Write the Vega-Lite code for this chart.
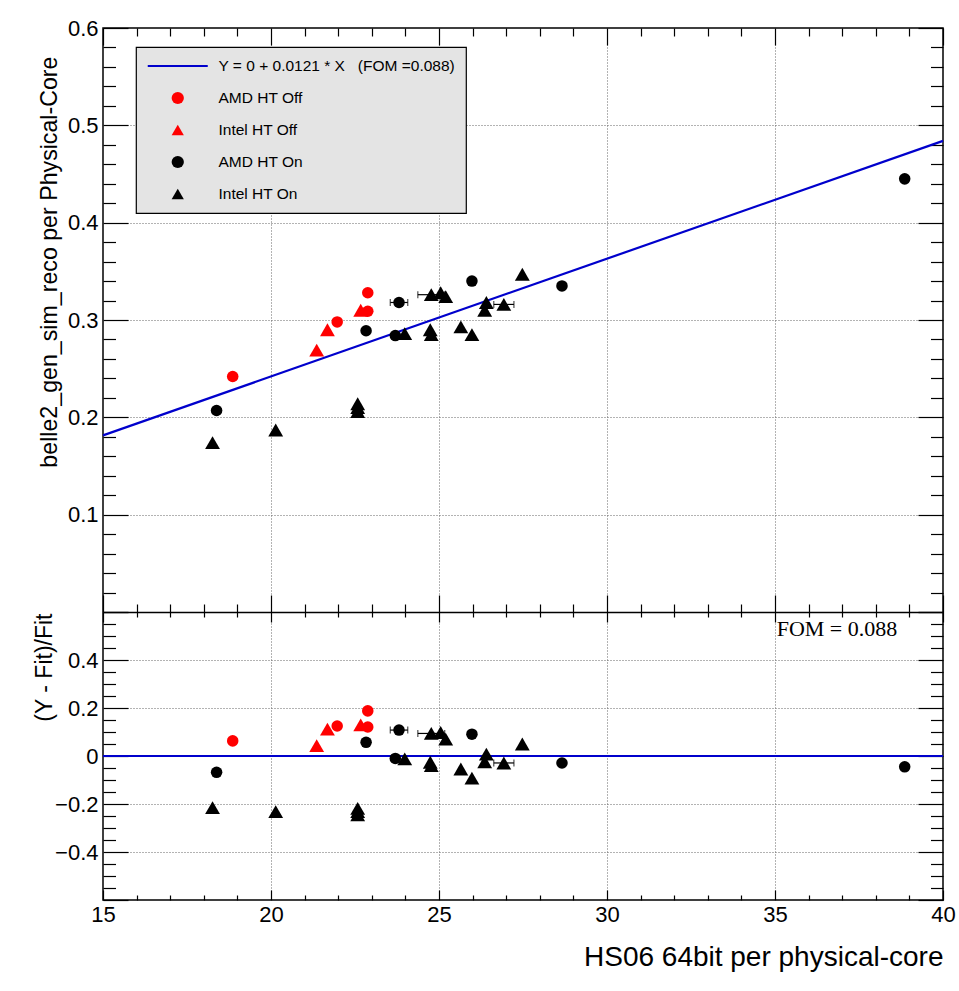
{
  "$schema": "https://vega.github.io/schema/vega-lite/v6.json",
  "width": 840,
  "height": 872,
  "autosize": {"type": "none"},
  "padding": {"left": 103, "top": 28, "right": 16, "bottom": 91},
  "background": "white",
  "config": {
    "view": {"stroke": "black", "strokeWidth": 1.5},
    "font": "Liberation Sans",
    "axis": {
      "domain": false, "grid": false, "labels": false, "title": null,
      "tickColor": "black", "tickWidth": 1.2,
      "labelFont": "Liberation Sans", "labelFontSize": 22, "labelColor": "black",
      "labelFlush": false, "labelOverlap": false,
      "titleColor": "black", "titleFontWeight": "normal",
      "gridColor": "#666666", "gridDash": [1, 2], "gridWidth": 1
    },
    "legend": {
      "orient": "none", "legendX": 33, "legendY": 19,
      "fillColor": "#e4e4e4", "strokeColor": "black", "strokeWidth": 1.2,
      "padding": 10, "rowPadding": 14,
      "labelFont": "Liberation Sans", "labelFontSize": 15.5, "labelColor": "black",
      "labelOffset": 33, "labelLimit": 0,
      "symbolSize": 150, "symbolOffset": 24, "clipHeight": 18, "symbolStrokeWidth": 0
    }
  },
  "datasets": {
    "fit": [
      {"x": 15, "y": 0.1815},
      {"x": 40, "y": 0.484}
    ],
    "pts": [
      {"type": "AMD HT Off", "x": 18.86, "y": 0.242, "res": 0.063},
      {"type": "AMD HT Off", "x": 21.97, "y": 0.298, "res": 0.125},
      {"type": "AMD HT Off", "x": 22.88, "y": 0.328, "res": 0.188},
      {"type": "AMD HT Off", "x": 22.88, "y": 0.309, "res": 0.121},
      {"type": "Intel HT Off", "x": 21.36, "y": 0.269, "res": 0.043},
      {"type": "Intel HT Off", "x": 21.68, "y": 0.290, "res": 0.112},
      {"type": "Intel HT Off", "x": 22.67, "y": 0.310, "res": 0.13},
      {"type": "AMD HT On", "x": 18.38, "y": 0.207, "res": -0.068},
      {"type": "AMD HT On", "x": 22.83, "y": 0.289, "res": 0.057},
      {"type": "AMD HT On", "x": 23.81, "y": 0.318, "res": 0.108, "lo": 23.55, "hi": 24.07},
      {"type": "AMD HT On", "x": 23.70, "y": 0.284, "res": -0.01},
      {"type": "AMD HT On", "x": 25.98, "y": 0.340, "res": 0.091},
      {"type": "AMD HT On", "x": 28.66, "y": 0.335, "res": -0.029},
      {"type": "AMD HT On", "x": 38.86, "y": 0.445, "res": -0.045},
      {"type": "Intel HT On", "x": 18.26, "y": 0.174, "res": -0.215},
      {"type": "Intel HT On", "x": 20.14, "y": 0.187, "res": -0.232},
      {"type": "Intel HT On", "x": 22.58, "y": 0.214, "res": -0.218},
      {"type": "Intel HT On", "x": 22.58, "y": 0.210, "res": -0.232},
      {"type": "Intel HT On", "x": 22.58, "y": 0.206, "res": -0.245},
      {"type": "Intel HT On", "x": 23.98, "y": 0.286, "res": -0.012},
      {"type": "Intel HT On", "x": 24.74, "y": 0.290, "res": -0.026},
      {"type": "Intel HT On", "x": 24.77, "y": 0.285, "res": -0.04},
      {"type": "Intel HT On", "x": 24.77, "y": 0.326, "res": 0.094, "lo": 24.37, "hi": 25.17},
      {"type": "Intel HT On", "x": 25.05, "y": 0.328, "res": 0.098},
      {"type": "Intel HT On", "x": 25.20, "y": 0.324, "res": 0.07},
      {"type": "Intel HT On", "x": 25.65, "y": 0.293, "res": -0.054},
      {"type": "Intel HT On", "x": 25.98, "y": 0.285, "res": -0.092},
      {"type": "Intel HT On", "x": 26.41, "y": 0.318, "res": 0.008},
      {"type": "Intel HT On", "x": 26.36, "y": 0.310, "res": -0.024},
      {"type": "Intel HT On", "x": 26.93, "y": 0.316, "res": -0.029, "lo": 26.63, "hi": 27.23},
      {"type": "Intel HT On", "x": 27.48, "y": 0.347, "res": 0.05}
    ]
  },
  "layer": [
    {
      "layer": [
        {
          "data": {"name": "pts"},
          "mark": {"type": "point", "opacity": 0},
          "encoding": {
            "x": {"field": "x", "type": "quantitative",
              "scale": {"domain": [15, 40], "nice": false, "zero": false},
              "axis": {"orient": "top", "values": [15,16,17,18,19,20,21,22,23,24,25,26,27,28,29,30,31,32,33,34,35,36,37,38,39,40],
                "tickSize": {"condition": {"test": "datum.value % 5 === 0", "value": -17}, "value": -8},
                "labels": false, "title": null,
                "grid": true,
                "gridOpacity": {"condition": {"test": "datum.value % 5 === 0 && datum.value > 15 && datum.value < 40", "value": 1}, "value": 0}}},
            "y": {"field": "y", "type": "quantitative",
              "scale": {"domain": [0, 0.6], "range": [584, 0], "nice": false, "zero": false},
              "axis": {"orient": "left",
                "values": [0,0.02,0.04,0.06,0.08,0.1,0.12,0.14,0.16,0.18,0.2,0.22,0.24,0.26,0.28,0.3,0.32,0.34,0.36,0.38,0.4,0.42,0.44,0.46,0.48,0.5,0.52,0.54,0.56,0.58,0.6],
                "tickSize": {"condition": {"test": "round(datum.value*100) % 10 === 0", "value": -25}, "value": -12.5},
                "labels": true,
                "labelExpr": "round(datum.value*100) % 10 === 0 && datum.value > 0 ? format(datum.value, '.1f') : ''",
                "labelPadding": 30,
                "grid": true,
                "gridOpacity": {"condition": {"test": "round(datum.value*100) % 10 === 0 && datum.value > 0.05 && datum.value < 0.55", "value": 1}, "value": 0},
                "title": "belle2_gen_sim_reco per Physical-Core",
                "titleFont": "Liberation Sans", "titleFontSize": 23.2,
                "titleAngle": -90, "titleAlign": "right", "titleBaseline": "middle",
                "titleX": -54, "titleY": 28}}
          }
        },
        {
          "data": {"name": "pts"},
          "mark": {"type": "point", "opacity": 0},
          "encoding": {
            "x": {"field": "x", "type": "quantitative",
              "axis": {"orient": "bottom", "offset": -288, "values": [15,16,17,18,19,20,21,22,23,24,25,26,27,28,29,30,31,32,33,34,35,36,37,38,39,40],
                "tickSize": {"condition": {"test": "datum.value % 5 === 0", "value": -17}, "value": -8},
                "domain": true, "domainColor": "black", "domainWidth": 1.5,
                "labels": false, "grid": false, "title": null}},
            "y": {"field": "y", "type": "quantitative",
              "axis": {"orient": "right",
                "values": [0,0.02,0.04,0.06,0.08,0.1,0.12,0.14,0.16,0.18,0.2,0.22,0.24,0.26,0.28,0.3,0.32,0.34,0.36,0.38,0.4,0.42,0.44,0.46,0.48,0.5,0.52,0.54,0.56,0.58,0.6],
                "tickSize": {"condition": {"test": "round(datum.value*100) % 10 === 0", "value": -25}, "value": -12.5},
                "labels": false, "grid": false, "title": null}}
          }
        },
        {
          "data": {"name": "fit"},
          "mark": {"type": "line", "color": "#0000cc", "strokeWidth": 2.2},
          "encoding": {
            "x": {"field": "x", "type": "quantitative", "axis": null},
            "y": {"field": "y", "type": "quantitative", "axis": null}
          }
        },
        {
          "data": {"name": "pts"},
          "transform": [{"filter": "isValid(datum.lo)"}],
          "mark": {"type": "errorbar", "color": "black", "thickness": 1.2, "ticks": {"size": 7, "thickness": 1.2}},
          "encoding": {
            "x": {"field": "lo", "type": "quantitative", "axis": null},
            "x2": {"field": "hi"},
            "y": {"field": "y", "type": "quantitative", "axis": null}
          }
        },
        {
          "data": {"name": "pts"},
          "mark": {"type": "point", "filled": true, "opacity": 1, "strokeWidth": 0},
          "encoding": {
            "x": {"field": "x", "type": "quantitative", "axis": null},
            "y": {"field": "y", "type": "quantitative", "axis": null},
            "color": {"field": "type", "type": "nominal",
              "scale": {"domain": ["fit", "AMD HT Off", "Intel HT Off", "AMD HT On", "Intel HT On"],
                "range": ["#0000cc", "#ff0000", "#ff0000", "#000000", "#000000"]},
              "legend": {"title": null,
                "labelExpr": "datum.value === 'fit' ? 'Y = 0 + 0.0121 * X\u00a0\u00a0\u00a0(FOM =0.088)\u00a0\u00a0\u00a0\u00a0' : datum.label"}},
            "shape": {"field": "type", "type": "nominal",
              "scale": {"domain": ["fit", "AMD HT Off", "Intel HT Off", "AMD HT On", "Intel HT On"],
                "range": ["M-4.9,-0.18H4.9V0.18H-4.9Z", "circle", "triangle-up", "circle", "triangle-up"]}},
            "size": {"condition": {"test": "indexof(datum.type, 'Intel') >= 0", "value": 220}, "value": 133}
          }
        }
      ],
      "resolve": {"axis": {"x": "independent", "y": "independent"}}
    },
    {
      "layer": [
        {
          "data": {"name": "pts"},
          "mark": {"type": "point", "opacity": 0},
          "encoding": {
            "x": {"field": "x", "type": "quantitative",
              "axis": {"orient": "bottom", "values": [15,16,17,18,19,20,21,22,23,24,25,26,27,28,29,30,31,32,33,34,35,36,37,38,39,40],
                "tickSize": {"condition": {"test": "datum.value % 5 === 0", "value": -10}, "value": -5},
                "labels": true,
                "labelExpr": "datum.value % 5 === 0 ? datum.label : ''",
                "labelPadding": 14,
                "grid": false,
                "title": "HS06 64bit per physical-core",
                "titleFont": "Liberation Sans", "titleFontSize": 28,
                "titleAlign": "right", "titleBaseline": "middle", "titleAngle": 0,
                "titleX": 840, "titleY": 57}},
            "y": {"field": "res", "type": "quantitative",
              "scale": {"domain": [-0.6, 0.6], "range": [872, 584], "nice": false, "zero": false},
              "axis": {"orient": "left",
                "values": [-0.6,-0.55,-0.5,-0.45,-0.4,-0.35,-0.3,-0.25,-0.2,-0.15,-0.1,-0.05,0,0.05,0.1,0.15,0.2,0.25,0.3,0.35,0.4,0.45,0.5,0.55,0.6],
                "tickSize": {"condition": {"test": "round(datum.value*100) % 20 === 0", "value": -25}, "value": -12.5},
                "labels": true,
                "labelExpr": "round(datum.value*100) % 20 === 0 && abs(datum.value) < 0.5 ? (datum.value === 0 ? '0' : format(datum.value, '.1f')) : ''",
                "labelPadding": 30,
                "grid": true,
                "gridOpacity": {"condition": {"test": "round(datum.value*100) % 20 === 0 && abs(datum.value) < 0.5 && datum.value !== 0", "value": 1}, "value": 0},
                "title": "(Y - Fit)/Fit",
                "titleFont": "Liberation Sans", "titleFontSize": 23,
                "titleAngle": -90, "titleAlign": "right", "titleBaseline": "middle",
                "titleX": -59, "titleY": 585}}
          }
        },
        {
          "data": {"name": "pts"},
          "mark": {"type": "point", "opacity": 0},
          "encoding": {
            "x": {"field": "x", "type": "quantitative",
              "axis": {"orient": "top", "offset": -584, "values": [15,16,17,18,19,20,21,22,23,24,25,26,27,28,29,30,31,32,33,34,35,36,37,38,39,40],
                "tickSize": {"condition": {"test": "datum.value % 5 === 0", "value": -10}, "value": -5},
                "labels": false, "title": null,
                "grid": true,
                "gridOpacity": {"condition": {"test": "datum.value % 5 === 0 && datum.value > 15 && datum.value < 40", "value": 1}, "value": 0}}},
            "y": {"field": "res", "type": "quantitative",
              "axis": {"orient": "right",
                "values": [-0.6,-0.55,-0.5,-0.45,-0.4,-0.35,-0.3,-0.25,-0.2,-0.15,-0.1,-0.05,0,0.05,0.1,0.15,0.2,0.25,0.3,0.35,0.4,0.45,0.5,0.55,0.6],
                "tickSize": {"condition": {"test": "round(datum.value*100) % 20 === 0", "value": -25}, "value": -12.5},
                "labels": false, "grid": false, "title": null}}
          }
        },
        {
          "data": {"values": [{}]},
          "mark": {"type": "rule", "color": "#0000cc", "strokeWidth": 2.2},
          "encoding": {
            "y": {"datum": 0, "type": "quantitative", "axis": null}
          }
        },
        {
          "data": {"name": "pts"},
          "transform": [{"filter": "isValid(datum.lo)"}],
          "mark": {"type": "errorbar", "color": "black", "thickness": 1.2, "ticks": {"size": 7, "thickness": 1.2}},
          "encoding": {
            "x": {"field": "lo", "type": "quantitative", "axis": null},
            "x2": {"field": "hi"},
            "y": {"field": "res", "type": "quantitative", "axis": null}
          }
        },
        {
          "data": {"name": "pts"},
          "mark": {"type": "point", "filled": true, "opacity": 1, "strokeWidth": 0},
          "encoding": {
            "x": {"field": "x", "type": "quantitative", "axis": null},
            "y": {"field": "res", "type": "quantitative", "axis": null},
            "color": {"field": "type", "type": "nominal", "legend": null,
              "scale": {"domain": ["fit", "AMD HT Off", "Intel HT Off", "AMD HT On", "Intel HT On"],
                "range": ["#0000cc", "#ff0000", "#ff0000", "#000000", "#000000"]}},
            "shape": {"field": "type", "type": "nominal", "legend": null,
              "scale": {"domain": ["fit", "AMD HT Off", "Intel HT Off", "AMD HT On", "Intel HT On"],
                "range": ["M-4.9,-0.18H4.9V0.18H-4.9Z", "circle", "triangle-up", "circle", "triangle-up"]}},
            "size": {"condition": {"test": "indexof(datum.type, 'Intel') >= 0", "value": 220}, "value": 133}
          }
        },
        {
          "data": {"values": [{}]},
          "mark": {"type": "text", "font": "Liberation Serif", "fontSize": 22, "align": "left", "baseline": "middle", "color": "black"},
          "encoding": {
            "x": {"datum": 35.05, "type": "quantitative", "axis": null},
            "y": {"datum": 0.53, "type": "quantitative", "axis": null},
            "text": {"value": "FOM = 0.088"}
          }
        }
      ],
      "resolve": {"axis": {"x": "independent", "y": "independent"}}
    }
  ],
  "resolve": {"scale": {"y": "independent"}, "axis": {"x": "independent", "y": "independent"}}
}
